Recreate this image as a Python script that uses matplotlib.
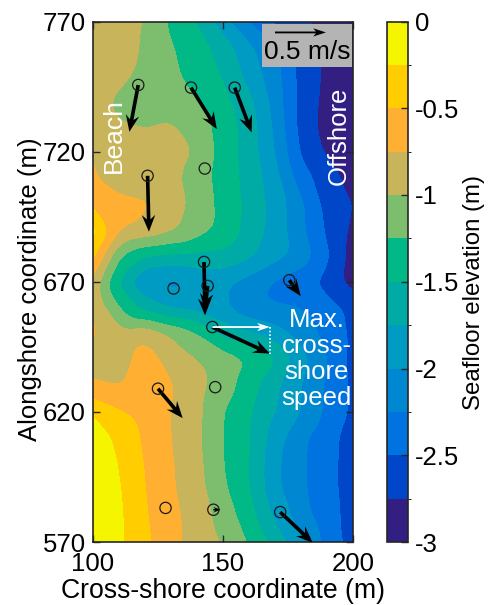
import numpy as np
import matplotlib
matplotlib.use('Agg')
import matplotlib.pyplot as plt
import matplotlib.tri as mtri
from matplotlib.colors import ListedColormap, BoundaryNorm
from matplotlib.patches import Rectangle

plt.rcParams['font.family'] = ['Liberation Sans', 'DejaVu Sans']

# grid of the survey
cross_shore = [100, 110, 120, 130, 140, 150, 160, 170, 180, 190, 200]
alongshore = [770, 760, 750, 740, 730, 720, 710, 700, 690, 680, 670,
              660, 650, 640, 630, 620, 610, 600, 590, 580, 570]
elevation = [
    [-0.85, -0.92, -1.00, -1.30, -1.50, -1.90, -2.25, -2.55, -2.70, -2.85, -2.90],
    [-0.85, -0.92, -1.02, -1.23, -1.40, -1.60, -1.95, -2.20, -2.60, -2.80, -2.85],
    [-0.85, -0.93, -1.06, -1.20, -1.35, -1.52, -1.85, -2.15, -2.60, -2.80, -2.85],
    [-0.90, -1.04, -1.12, -1.17, -1.25, -1.42, -1.68, -2.10, -2.60, -2.82, -2.85],
    [-0.92, -0.99, -1.02, -0.97, -1.12, -1.35, -1.62, -2.05, -2.60, -2.85, -2.88],
    [-0.76, -0.85, -0.88, -0.88, -1.02, -1.35, -1.63, -2.00, -2.55, -2.80, -2.85],
    [-0.73, -0.88, -0.88, -0.92, -1.13, -1.35, -1.60, -1.90, -2.40, -2.62, -2.85],
    [-0.60, -0.68, -0.72, -0.85, -1.10, -1.33, -1.57, -1.85, -2.20, -2.60, -2.75],
    [-0.15, -0.72, -0.80, -0.95, -1.13, -1.32, -1.60, -1.85, -2.20, -2.55, -2.80],
    [-0.45, -1.25, -1.50, -1.55, -1.55, -1.55, -1.70, -1.90, -2.10, -2.45, -2.85],
    [-0.85, -1.55, -2.05, -2.10, -1.95, -1.95, -2.10, -2.30, -2.40, -2.60, -2.85],
    [-0.78, -1.25, -1.60, -1.80, -1.85, -1.95, -2.20, -2.25, -2.25, -2.40, -2.55],
    [-0.72, -0.90, -0.80, -1.02, -1.22, -1.58, -1.70, -1.85, -2.10, -2.35, -2.55],
    [-0.85, -0.90, -0.62, -0.85, -1.00, -1.10, -1.25, -1.45, -1.90, -2.25, -2.60],
    [-0.72, -0.76, -0.72, -0.72, -0.92, -1.12, -1.38, -1.70, -2.00, -2.30, -2.55],
    [-0.28, -0.47, -0.60, -0.76, -0.93, -1.25, -1.47, -1.75, -2.00, -2.30, -2.55],
    [-0.12, -0.30, -0.55, -0.75, -0.95, -1.25, -1.47, -1.88, -2.20, -2.42, -2.60],
    [-0.10, -0.25, -0.52, -0.73, -0.92, -1.25, -1.48, -1.95, -2.20, -2.43, -2.60],
    [-0.08, -0.22, -0.50, -0.72, -0.90, -1.20, -1.48, -1.95, -2.20, -2.43, -2.60],
    [-0.05, -0.20, -0.48, -0.68, -0.87, -1.10, -1.40, -1.80, -2.15, -2.40, -2.60],
    [-0.05, -0.20, -0.45, -0.68, -0.85, -1.02, -1.27, -1.60, -1.95, -2.35, -2.60],
]

levels = [-3, -2.75, -2.5, -2.25, -2, -1.75, -1.5, -1.25, -1, -0.75, -0.5, -0.25, 0]
band_colors = ['#331f82', '#0046c8', '#0073e1', '#0087d2', '#009bc3', '#00aaa5',
               '#00b987', '#7dbe6e', '#c8b45a', '#ffaf32', '#ffcd00', '#f5f500']

# measurement points, m
point_x = [117.4, 137.7, 154.5, 121.0, 143.0, 142.7, 131.0, 144.1, 175.5, 145.9, 125.0, 147.0, 127.9, 146.3, 172.0]
point_y = [745.6, 744.6, 744.6, 710.7, 713.5, 677.6, 667.4, 668.4, 670.6, 652.6, 628.9, 629.5, 583.1, 582.4, 581.5]
# mean velocity, m/s
vel_u = [-0.087, 0.253, 0.166, 0.013, 0.0, 0.010, 0.0, -0.028, 0.112, 0.564, 0.242, 0.0, 0.0, 0.069, 0.319]
vel_v = [-0.459, -0.406, -0.439, -0.548, 0.0, -0.523, 0.0, -0.240, -0.156, -0.260, -0.288, 0.0, 0.0, 0.0, -0.301]

M_PER_MS = 39.2  # arrow length in axis metres for 1 m/s


def gauss_smooth(field, sigma):
  """Separable gaussian blur, edges padded"""
  r = int(4 * sigma)
  k = np.exp(-0.5 * (np.arange(-r, r + 1) / sigma) ** 2)
  k = k / k.sum()
  pad = np.pad(field, r, mode='reflect', reflect_type='odd')
  pad = np.apply_along_axis(lambda m: np.convolve(m, k, mode='same'), 0, pad)
  pad = np.apply_along_axis(lambda m: np.convolve(m, k, mode='same'), 1, pad)
  return pad[r:-r, r:-r]


xx, yy = np.meshgrid(cross_shore, alongshore)
z = np.array(elevation)
tri = mtri.Triangulation(xx.ravel(), yy.ravel())
smooth = mtri.LinearTriInterpolator(tri, z.ravel())
xf, yf = np.meshgrid(np.linspace(100, 200, 201), np.linspace(570, 770, 401))
zf = np.ma.filled(smooth(xf, yf), -1.5)
zf = gauss_smooth(zf, 5)  # 2.5 m
zf = np.clip(zf, -2.99, -0.01)

fig = plt.figure(figsize=(4.9, 6.05), dpi=100)
ax = fig.add_axes([93/490, 63/605, 260/490, 520.5/605])
cmap = ListedColormap(band_colors)
norm = BoundaryNorm(levels, cmap.N)
ax.contourf(xf, yf, zf, levels=levels, cmap=cmap, norm=norm)

# only points with a measured current get an arrow
has_arrow = [i for i in range(len(point_x)) if vel_u[i] != 0 or vel_v[i] != 0]
ax.quiver([point_x[i] for i in has_arrow], [point_y[i] for i in has_arrow],
          [vel_u[i] for i in has_arrow], [vel_v[i] for i in has_arrow],
          angles='xy', scale_units='xy', scale=1/M_PER_MS, units='xy', width=1.4,
          headwidth=3.7, headlength=4.6, headaxislength=3.4, color='black', zorder=3)
ax.scatter(point_x, point_y, s=66, facecolors='none', edgecolors='#1a1a1a', linewidths=0.9, zorder=4)

# scale box
ax.add_patch(Rectangle((165, 752.6), 34.6, 16.6, facecolor='#b4b4b4', edgecolor='none', zorder=5))
ax.quiver([170], [765.8], [0.5], [0], angles='xy', scale_units='xy', scale=1/M_PER_MS, units='xy',
          width=0.7, headwidth=4.5, headlength=7, headaxislength=5.5, color='black', zorder=6)
ax.text(182.3, 758.2, '0.5 m/s', fontsize=19, ha='center', va='center', zorder=6)

# max cross-shore speed marker
ax.quiver([145.9], [652.6], [0.564], [0], angles='xy', scale_units='xy', scale=1/M_PER_MS, units='xy',
          width=0.7, headwidth=4.5, headlength=7, headaxislength=5.5, color='white', zorder=5)
ax.plot([168, 168], [652.6, 642.4], color='white', lw=1.2, ls=(0, (1, 1.2)), zorder=5)
ax.text(186, 640.2, 'Max.\ncross-\nshore\nspeed', color='white', fontsize=18.5, ha='center',
        va='center', linespacing=1.1, zorder=5)
ax.text(108, 726, 'Beach', color='white', fontsize=19, rotation=90, ha='center', va='center', zorder=5)
ax.text(194.7, 726, 'Offshore', color='white', fontsize=18.5, rotation=90, ha='center', va='center', zorder=5)

ax.set_xlim(100, 200)
ax.set_ylim(570, 770)
ax.set_xticks([100, 150, 200])
ax.set_yticks([570, 620, 670, 720, 770])
ax.tick_params(direction='in', top=True, right=True, length=5, width=1, color='#262626',
               labelsize=18.5)
ax.tick_params(axis='x', pad=7)
ax.tick_params(axis='y', pad=5)
ax.set_xlabel('Cross-shore coordinate (m)', fontsize=19.2, labelpad=2)
ax.set_ylabel('Alongshore coordinate (m)', fontsize=18.5, labelpad=1, y=0.485)
for s in ax.spines.values():
    s.set_linewidth(1.2)
    s.set_color('#262626')

cax = fig.add_axes([387/490, 63/605, 21/490, 520.5/605])
sm = plt.cm.ScalarMappable(cmap=cmap, norm=norm)
cb = fig.colorbar(sm, cax=cax, spacing='proportional', ticks=[0, -0.5, -1, -1.5, -2, -2.5, -3])
cb.ax.set_yticklabels(['0', '-0.5', '-1', '-1.5', '-2', '-2.5', '-3'])
cb.ax.tick_params(direction='in', length=5, width=1, color='#262626', labelsize=18.5, pad=5)
cb.set_label('Seafloor elevation (m)', fontsize=17.3, labelpad=3, y=0.48)
cb.outline.set_linewidth(1.2)
cb.outline.set_edgecolor('#262626')

fig.savefig('out.png', dpi=100)
